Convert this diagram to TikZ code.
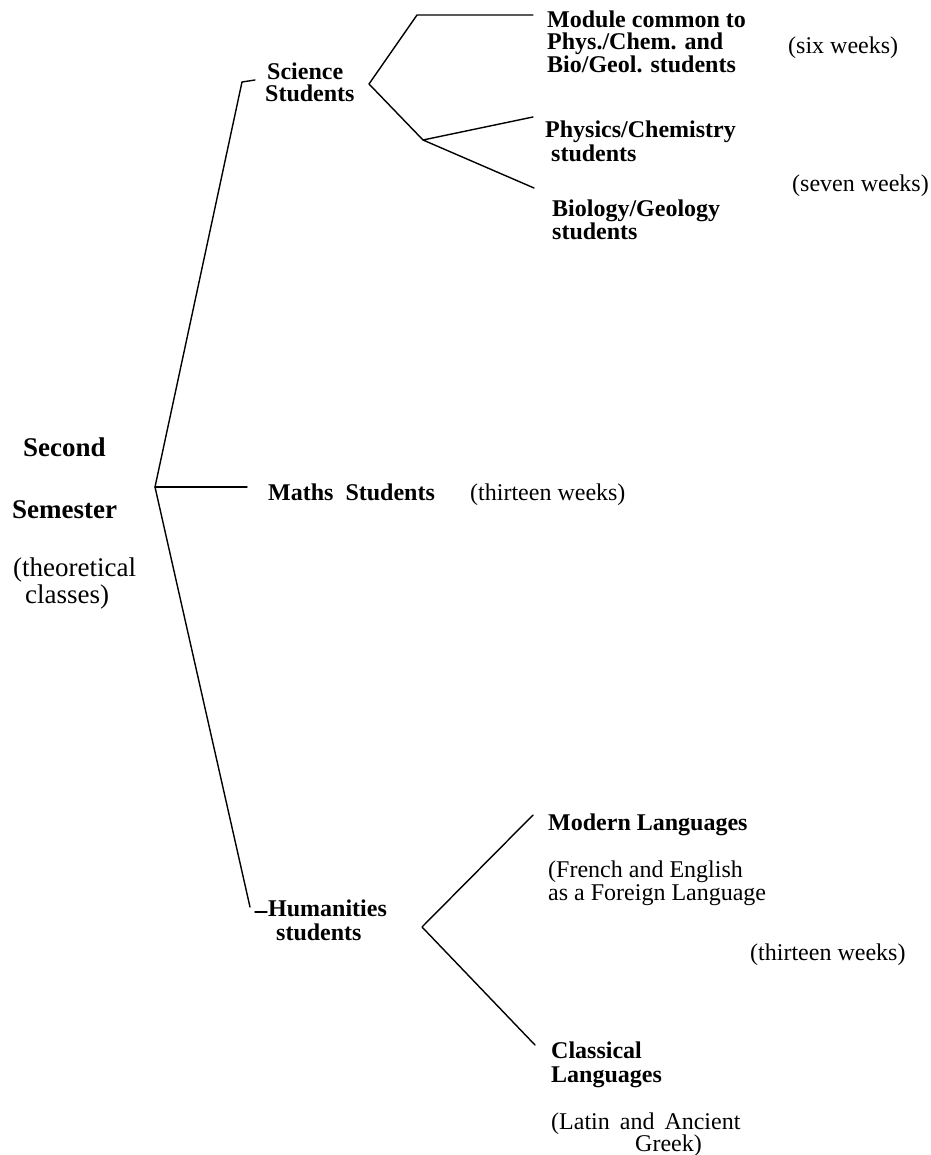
\documentclass[tikz,border=0pt]{standalone}
\usepackage{fontspec}
\setmainfont{Liberation Serif}
\begin{document}
\begin{tikzpicture}[x=1pt,y=-1pt,
  txt/.style={inner sep=0pt, anchor=base west, font=\fontsize{24}{23}\selectfont},
  btxt/.style={txt, font=\fontsize{24}{23}\selectfont\bfseries},
  bigtxt/.style={inner sep=0pt, anchor=base west, font=\fontsize{27}{24}\selectfont},
  bigbtxt/.style={bigtxt, font=\fontsize{27}{24}\selectfont\bfseries},
  link/.style={line width=1.4pt, line cap=round, line join=round}]
\useasboundingbox (0,0) rectangle (930,1155);

% semester heading
\node[bigbtxt] (second) at (23,456) {Second};
\node[bigbtxt] (semester) at (12,518) {Semester};
\node[bigtxt] (theo1) at (13,576) {(theoretical};
\node[bigtxt] (theo2) at (25,603) {classes)};

% science branch
\node[btxt] (sci1) at (267,80) {Science};
\node[btxt] (sci2) at (265,102) {Students};
\node[btxt] (mod1) at (547,28) {Module common to};
\node[btxt] (mod2) at (547,50) {Phys./Chem. and};
\node[btxt] (mod3) at (547,73) {Bio/Geol. students};
\node[txt]  (six)  at (788,54) {(six weeks)};
\node[btxt] (pc1) at (545,138) {Physics/Chemistry};
\node[btxt] (pc2) at (551,162) {students};
\node[txt]  (seven) at (792,192) {(seven weeks)};
\node[btxt] (bg1) at (552,217) {Biology/Geology};
\node[btxt] (bg2) at (552,240) {students};

% maths branch
\node[btxt] (maths) at (268,500) {Maths\ \ Students};
\node[txt]  (mweeks) at (470,500) {(thirteen weeks)};

% humanities branch
\node[btxt] (hum1) at (268,916) {Humanities};
\node[btxt] (hum2) at (276,940) {students};
\node[btxt] (ml) at (548,830) {Modern Languages};
\node[txt]  (fr1) at (548,877) {(French and English};
\node[txt]  (fr2) at (548,900) {as a Foreign Language};
\node[txt]  (hweeks) at (750,960) {(thirteen weeks)};
\node[btxt] (cl1) at (551,1058) {Classical};
\node[btxt] (cl2) at (551,1082) {Languages};
\node[txt]  (lat1) at (551,1129) {(Latin\hspace{10pt}and\hspace{10pt}Ancient};
\node[txt]  (lat2) at (635,1151) {Greek)};

% junctions and line ends
\coordinate (root) at (155,487);
\coordinate (sciEnd) at (242,82);
\coordinate (sciTick) at (255,80);
\coordinate (mathEnd) at (247,487);
\coordinate (humEnd) at (250,907);
\coordinate (humTickA) at (255,912);
\coordinate (humTickB) at (267,912);

\coordinate (sciFork) at (369,84);
\coordinate (modBend) at (417,15);
\coordinate (modEnd) at (533,15);
\coordinate (subFork) at (423,140);
\coordinate (pcEnd) at (533,117);
\coordinate (bgEnd) at (534,188);

\coordinate (humFork) at (422,927);
\coordinate (mlEnd) at (533,815);
\coordinate (clEnd) at (535,1045);

% connectors
\draw[link] (sciTick) -- (sciEnd) -- (root) -- (humEnd);
\draw[link] (root) -- (mathEnd);
\draw[link] (humTickA) -- (humTickB);
\draw[link] (modEnd) -- (modBend) -- (sciFork) -- (subFork);
\draw[link] (pcEnd) -- (subFork) -- (bgEnd);
\draw[link] (mlEnd) -- (humFork) -- (clEnd);
\end{tikzpicture}
\end{document}
